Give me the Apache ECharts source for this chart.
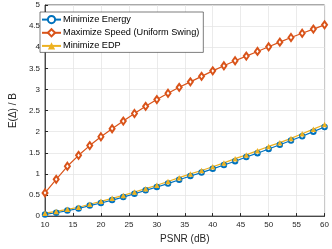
<!DOCTYPE html>
<html><head><meta charset="utf-8">
<script src="https://cdn.jsdelivr.net/npm/echarts@6/dist/echarts.min.js"></script>
<style>html,body{margin:0;padding:0;background:#fff}#c{width:332px;height:249px}</style>
</head><body><div id="c"></div>
<script>
const psnr = [10,12,14,16,18,20,22,24,26,28,30,32,34,36,38,40,42,44,46,48,50,52,54,56,58,60];
const minEnergy = [0.04,0.08,0.13,0.18,0.25,0.31,0.38,0.45,0.53,0.61,0.69,0.77,0.86,0.95,1.03,1.12,1.21,1.30,1.40,1.49,1.59,1.69,1.79,1.89,2.00,2.11];
const maxSpeed = [0.55,0.87,1.18,1.44,1.67,1.88,2.07,2.25,2.43,2.60,2.76,2.91,3.05,3.18,3.31,3.44,3.56,3.68,3.79,3.90,4.01,4.12,4.23,4.33,4.43,4.53];
const minEDP = [0.07,0.11,0.16,0.21,0.28,0.35,0.42,0.49,0.57,0.65,0.73,0.82,0.91,1.00,1.08,1.17,1.26,1.36,1.45,1.55,1.65,1.74,1.84,1.95,2.06,2.17];
const names = ['Minimize Energy','Maximize Speed (Uniform Swing)','Minimize EDP'];
const xTicks = {min:10,max:60,interval:5};
const yTicks = {min:0,max:5,interval:0.5};

const pair = arr => psnr.map((x,i)=>[x,arr[i]]);
const chart = echarts.init(document.getElementById('c'));
const font = 'Helvetica, Arial, "Liberation Sans", sans-serif';
chart.setOption({
  animation:false,
  textStyle:{fontFamily:font},
  grid:{left:31,right:5,top:5,bottom:29,show:true,borderColor:'#262626',borderWidth:0.8},
  legend:{
    orient:'vertical', left:40, top:12, itemGap:4, itemWidth:19, itemHeight:9,
    backgroundColor:'#fff', borderColor:'#262626', borderWidth:0.6, borderRadius:0,
    padding:[3,4,2,1],
    textStyle:{fontSize:9.2,color:'#000',fontFamily:font, padding:[0,0,0,-3]},
    data:names
  },
  xAxis:{
    type:'value', min:xTicks.min, max:xTicks.max, interval:xTicks.interval,
    name:'PSNR (dB)', nameLocation:'middle', nameGap:17,
    nameTextStyle:{fontSize:10,color:'#262626'},
    axisLine:{lineStyle:{color:'#262626',width:0.8}},
    axisTick:{show:true,inside:true,length:3,lineStyle:{color:'#262626'}},
    axisLabel:{fontSize:8,color:'#262626',margin:5},
    splitLine:{show:true,lineStyle:{color:'#e6e6e6',width:0.8}}
  },
  yAxis:{
    type:'value', min:yTicks.min, max:yTicks.max, interval:yTicks.interval,
    name:'E(Δ) / B', nameLocation:'middle', nameGap:21,
    nameTextStyle:{fontSize:10,color:'#262626'},
    axisLine:{show:true,lineStyle:{color:'#262626',width:0.8}},
    axisTick:{show:true,inside:true,length:3,lineStyle:{color:'#262626'}},
    axisLabel:{fontSize:8,color:'#262626',margin:5},
    splitLine:{show:true,lineStyle:{color:'#e6e6e6',width:0.8}}
  },
  series:[
    {name:names[0],type:'line',data:pair(minEnergy),symbol:'emptyCircle',symbolSize:4.5,
     color:'#0072BD',lineStyle:{width:1.2},itemStyle:{borderWidth:0.9}},
    {name:names[1],type:'line',data:pair(maxSpeed),symbol:'emptyDiamond',symbolSize:[5,7],
     color:'#D95319',lineStyle:{width:1.2},itemStyle:{borderWidth:0.9}},
    {name:names[2],type:'line',data:pair(minEDP),symbol:'triangle',symbolSize:5.5,
     color:'#EDB120',lineStyle:{width:1.2},itemStyle:{borderWidth:0.8}}
  ]
});
</script></body></html>
